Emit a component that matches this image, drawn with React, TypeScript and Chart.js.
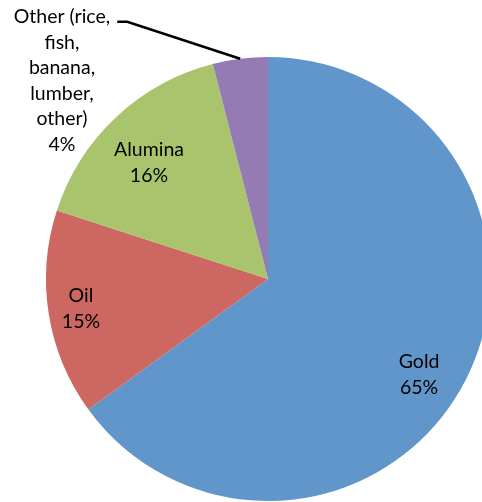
import React, { useEffect, useRef } from 'react';
import { Chart, registerables } from 'chart.js';

Chart.register(...registerables);

// ---- data ----
const categories = ['Gold', 'Oil', 'Alumina', 'Other (rice, fish, banana, lumber, other)'];
const labelLines = [['Gold'], ['Oil'], ['Alumina'], ['Other (rice,', 'fish,', 'banana,', 'lumber,', 'other)']];
const values = [65, 15, 16, 4];

// ---- styles ----
const colors = ['#6196CB', '#CD6762', '#AAC46E', '#957BB4'];
// label placement: fraction of radius along mid-angle, plus an angle tweak (degrees)
const labelPlacement = [
  { ratio: 0.806, angleOffset: 5.4, leader: false },
  { ratio: 0.853, angleOffset: 0, leader: false },
  { ratio: 0.749, angleOffset: -2.5, leader: false },
  { ratio: 1.288, angleOffset: -38.9, leader: true },
];
const FONT = '19.5px Lato, "Open Sans", sans-serif';
const LINE_H = 25.6;

const labelPlugin = {
  id: 'pieLabels',
  afterDatasetsDraw(chart: any) {
    const ctx = chart.ctx;
    const meta = chart.getDatasetMeta(0);
    const total = values.reduce((a, b) => a + b, 0);
    ctx.save();
    ctx.font = FONT;
    ctx.fillStyle = '#000';
    ctx.textAlign = 'center';
    ctx.textBaseline = 'middle';
    meta.data.forEach((arc: any, i: number) => {
      const p = arc.getProps(['x', 'y', 'startAngle', 'endAngle', 'outerRadius'], true);
      const place = labelPlacement[i];
      const midReal = (p.startAngle + p.endAngle) / 2;
      const mid = midReal + (place.angleOffset * Math.PI) / 180;
      const lx = p.x + Math.cos(mid) * p.outerRadius * place.ratio;
      const ly = p.y + Math.sin(mid) * p.outerRadius * place.ratio;
      const pct = Math.round((values[i] / total) * 100) + '%';
      const lines = [...labelLines[i], pct];
      const n = lines.length;
      lines.forEach((t, k) => {
        ctx.fillText(t, lx, ly + (k - (n - 1) / 2) * LINE_H);
      });
      if (place.leader) {
        const firstY = ly - ((n - 1) / 2) * LINE_H;
        const w = ctx.measureText(lines[0]).width;
        const sx = lx + w / 2 + 7;
        const sy = firstY + 5;
        const ex = p.x + Math.cos(midReal) * p.outerRadius;
        const ey = p.y + Math.sin(midReal) * p.outerRadius;
        ctx.beginPath();
        ctx.strokeStyle = '#000';
        ctx.lineWidth = 2.6;
        ctx.moveTo(sx, sy);
        ctx.lineTo(sx + 10, sy);
        ctx.lineTo(ex, ey);
        ctx.stroke();
      }
    });
    ctx.restore();
  },
};

export default function App() {
  const ref = useRef<HTMLCanvasElement>(null);
  useEffect(() => {
    if (!ref.current) return;
    const chart = new Chart(ref.current, {
      type: 'pie',
      data: {
        labels: categories,
        datasets: [
          {
            data: values,
            backgroundColor: colors,
            borderWidth: 0,
            clip: false as any,
          } as any,
        ],
      },
      options: {
        responsive: false,
        animation: false,
        radius: 222,
        layout: { padding: { left: 54, top: 56, right: 0, bottom: 0 } },
        plugins: {
          legend: { display: false },
          tooltip: { enabled: false },
        },
      } as any,
      plugins: [labelPlugin],
    });
    return () => chart.destroy();
  }, []);
  return (
    <div style={{ position: 'fixed', left: 0, top: 0, width: 482, height: 502, overflow: 'hidden', background: '#fff' }}>
      <canvas ref={ref} width={482} height={502} style={{ display: 'block' }} />
    </div>
  );
}
